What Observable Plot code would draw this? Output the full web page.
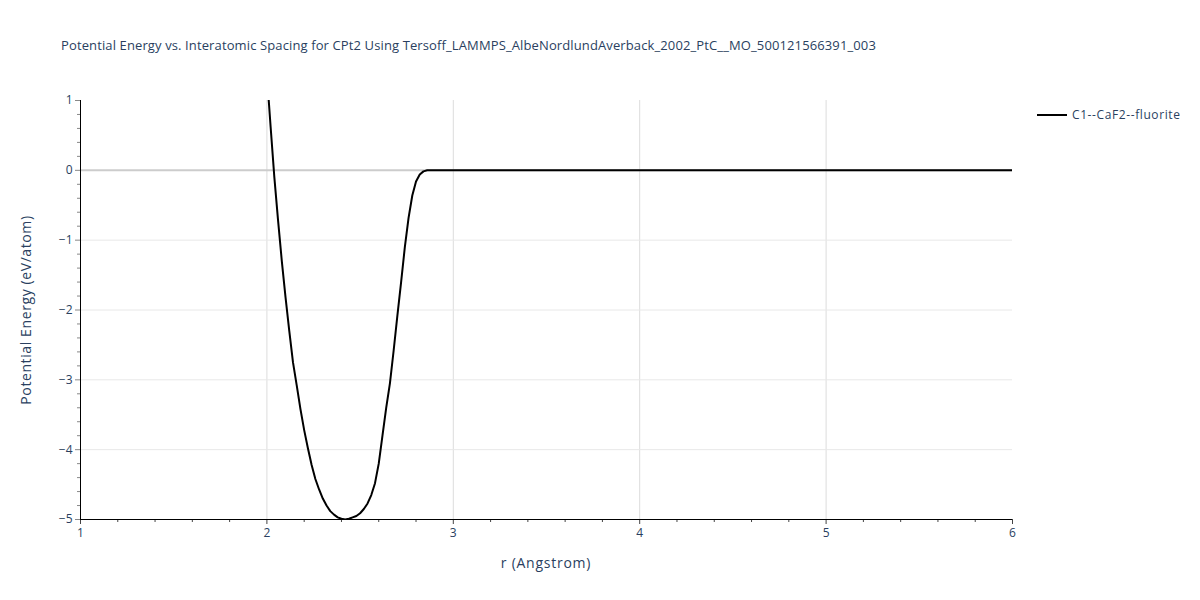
<!DOCTYPE html>
<html><head><meta charset="utf-8">
<script src="https://cdn.jsdelivr.net/npm/d3@7"></script>
<script src="https://cdn.jsdelivr.net/npm/@observablehq/plot@0.6"></script>
<style>
body{margin:0;background:#fff;font-family:"Open Sans",sans-serif;}
#wrap{position:relative;width:1200px;height:600px;overflow:hidden;}
#chart{position:absolute;left:0;top:0;}
#title{position:absolute;left:61px;top:36px;font-size:13px;letter-spacing:0.12px;color:#2a3f5f;white-space:nowrap;}
#xlabel{position:absolute;left:546px;top:553px;transform:translateX(-50%);font-size:14px;letter-spacing:0.75px;color:#2a3f5f;white-space:nowrap;}
#ylabel{position:absolute;left:25px;top:310px;transform:translate(-50%,-50%) rotate(-90deg);font-size:14px;letter-spacing:0.6px;color:#2a3f5f;white-space:nowrap;}
#legend{position:absolute;left:1037px;top:106px;font-size:12px;letter-spacing:0.6px;color:#2a3f5f;display:flex;align-items:center;white-space:nowrap;}
</style></head><body>
<div id="wrap">
<div id="chart"></div>
<div id="title">Potential Energy vs. Interatomic Spacing for CPt2 Using Tersoff_LAMMPS_AlbeNordlundAverback_2002_PtC__MO_500121566391_003</div>
<div id="xlabel">r (Angstrom)</div>
<div id="ylabel">Potential Energy (eV/atom)</div>
<div id="legend"><svg width="30" height="4"><line x1="0" x2="30" y1="2" y2="2" stroke="black" stroke-width="2"/></svg><span style="margin-left:5px">C1--CaF2--fluorite</span></div>
</div>
<script>
const seriesName = "C1--CaF2--fluorite";
const r = [2.00,2.02,2.04,2.06,2.08,2.10,2.12,2.14,2.16,2.18,2.20,2.22,2.24,2.26,2.28,2.30,2.32,2.34,2.36,2.38,2.40,2.42,2.44,2.46,2.48,2.50,2.52,2.54,2.56,2.58,2.60,2.62,2.64,2.66,2.68,2.70,2.72,2.74,2.76,2.78,2.80,2.82,2.84,2.86,3.0,3.5,4.0,4.5,5.0,5.5,6.0];
const energy = [1.37,0.62,-0.10,-0.72,-1.30,-1.82,-2.30,-2.75,-3.08,-3.42,-3.72,-3.98,-4.22,-4.42,-4.57,-4.70,-4.80,-4.88,-4.93,-4.97,-4.99,-5.00,-4.99,-4.97,-4.95,-4.91,-4.85,-4.77,-4.65,-4.48,-4.20,-3.80,-3.40,-3.05,-2.58,-2.08,-1.60,-1.10,-0.68,-0.36,-0.16,-0.06,-0.015,0,0,0,0,0,0,0,0];
const xTicks = [1,2,3,4,5,6];
const xMinor = [1.2,1.4,1.6,1.8,2.2,2.4,2.6,2.8,3.2,3.4,3.6,3.8,4.2,4.4,4.6,4.8,5.2,5.4,5.6,5.8];
const yTicks = [-5,-4,-3,-2,-1,0,1];
const yMinor = [-4.8,-4.6,-4.4,-4.2,-3.8,-3.6,-3.4,-3.2,-2.8,-2.6,-2.4,-2.2,-1.8,-1.6,-1.4,-1.2,-0.8,-0.6,-0.4,-0.2,0.2,0.4,0.6,0.8];

const data = r.map((v,i)=>({r:v, e:energy[i]}));
const fmt = d => d < 0 ? "\u2212" + Math.abs(d) : String(d);

const chart = Plot.plot({
  width: 1200, height: 600,
  marginLeft: 80, marginRight: 188, marginTop: 100, marginBottom: 81,
  style: {fontFamily: "'Open Sans', sans-serif", fontSize: "12px", color: "#2a3f5f", background: "transparent"},
  x: {domain: [1,6], label: null},
  y: {domain: [-5,1], label: null},
  marks: [
    Plot.ruleX(xTicks.filter(d => d > 1 && d < 6), {stroke: "#dcdcdc", strokeWidth: 1}),
    Plot.ruleY(yTicks.filter(d => d > -5 && d < 1 && d !== 0), {stroke: "#e8e8e8", strokeWidth: 1}),
    Plot.ruleY([0], {stroke: "#cccccc", strokeWidth: 2}),
    Plot.line(data, {x: "r", y: "e", stroke: "black", strokeWidth: 2, clip: true}),
    Plot.axisX(xTicks, {tickSize: 5, tickPadding: 4, stroke: "#444", tickFormat: fmt, fill: "#2a3f5f", fontSize: 12}),
    Plot.axisX(xMinor, {tickSize: 3, stroke: "#444", text: null}),
    Plot.axisY(yTicks, {tickSize: 5, tickPadding: 3, stroke: "#888", tickFormat: fmt, fill: "#2a3f5f", fontSize: 12}),
    Plot.axisY(yMinor, {tickSize: 3, stroke: "#888", text: null}),
    Plot.ruleX([1], {stroke: "black", strokeWidth: 1}),
    Plot.ruleY([-5], {stroke: "black", strokeWidth: 1})
  ]
});
document.getElementById("chart").appendChild(chart);
</script>
</body></html>
